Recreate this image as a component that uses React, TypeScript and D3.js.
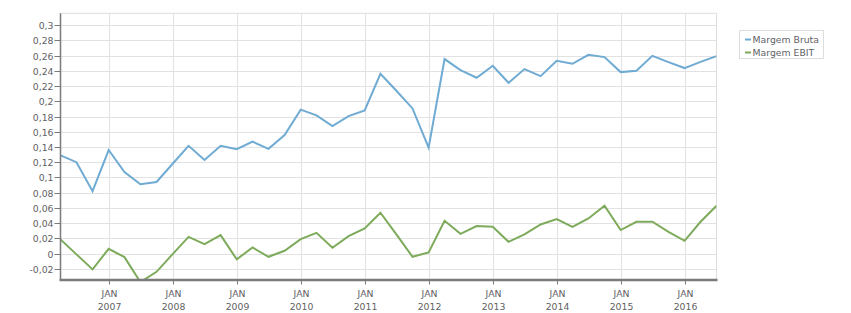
import React from "react";
import * as d3 from "d3";

const seriesNames = ["Margem Bruta", "Margem EBIT"];
const seriesColors = ["#6fabd3", "#7eab5b"];

// quarterly observations starting April 2006
const startYear = 2006;
const startMonth = 3; // April (0-based)

const margemBruta = [
  0.129, 0.12, 0.082, 0.136, 0.107, 0.091, 0.094, 0.118, 0.1415, 0.123,
  0.1415, 0.137, 0.147, 0.1376, 0.1556, 0.189, 0.1815, 0.1674, 0.1805, 0.188,
  0.236, 0.2138, 0.1906, 0.139, 0.2554, 0.241, 0.2309, 0.2466, 0.2243, 0.2423,
  0.233, 0.2532, 0.2492, 0.261, 0.258, 0.2383, 0.24, 0.2597, 0.2514, 0.2436,
  0.2518, 0.2593,
];

const margemEBIT = [
  0.0186, -0.001, -0.0207, 0.0063, -0.0046, -0.0374, -0.0239, -0.0007, 0.022, 0.0125,
  0.0243, -0.0076, 0.0081, -0.0042, 0.0037, 0.019, 0.0273, 0.0076, 0.023, 0.0331,
  0.0536, 0.0252, -0.0042, 0.0016, 0.0431, 0.026, 0.0361, 0.0352, 0.0155, 0.0252,
  0.0383, 0.0453, 0.0352, 0.0462, 0.0628, 0.0309, 0.0418, 0.0418, 0.0286, 0.0168,
  0.0418, 0.0628,
];

const yTicks = [-0.02, 0, 0.02, 0.04, 0.06, 0.08, 0.1, 0.12, 0.14, 0.16, 0.18, 0.2, 0.22, 0.24, 0.26, 0.28, 0.3];
const xTickYears = [2007, 2008, 2009, 2010, 2011, 2012, 2013, 2014, 2015, 2016];
const xTickMonthLabel = "JAN";

const W = 851;
const H = 313;
const plot = { left: 60.5, right: 716.5, top: 13.3, bottom: 279.5 };
const yDomain = [-0.034, 0.3155];
const FONT = "'DejaVu Sans', Verdana, sans-serif";
const textColor = "#5f5f66";

function fmt(v: number): string {
  if (Math.abs(v) < 1e-9) return "0";
  return String(+v.toFixed(2)).replace(".", ",");
}

export default function App() {
  const dates = margemBruta.map((_, i) => new Date(startYear, startMonth + 3 * i, 1));
  const x = d3
    .scaleTime()
    .domain([dates[0], dates[dates.length - 1]])
    .range([plot.left, plot.right]);
  const y = d3.scaleLinear().domain(yDomain).range([plot.bottom, plot.top]);

  const line = d3
    .line<number>()
    .x((_, i) => x(dates[i]))
    .y((d) => y(d));

  const series = [margemBruta, margemEBIT];

  return (
    <svg
      width={W}
      height={H}
      style={{ position: "absolute", left: 0, top: 0, background: "#fff" }}
      fontFamily={FONT}
    >
      <defs>
        <clipPath id="plotclip">
          <rect x={plot.left} y={plot.top} width={plot.right - plot.left} height={plot.bottom - plot.top} />
        </clipPath>
      </defs>
      {/* horizontal grid */}
      {yTicks.map((t) => (
        <line
          key={"hg" + t}
          x1={plot.left}
          x2={plot.right}
          y1={Math.round(y(t)) + 0.5}
          y2={Math.round(y(t)) + 0.5}
          stroke="#e2e2e2"
          strokeWidth={1}
        />
      ))}
      {/* vertical grid */}
      {xTickYears.map((yr) => {
        const px = Math.round(x(new Date(yr, 0, 1))) + 0.5;
        return (
          <line key={"vg" + yr} x1={px} x2={px} y1={plot.top} y2={plot.bottom} stroke="#e2e2e2" strokeWidth={1} />
        );
      })}
      {/* plot border top/right */}
      <line x1={plot.left} x2={plot.right} y1={plot.top} y2={plot.top} stroke="#dedede" strokeWidth={1} />
      <line x1={plot.right} x2={plot.right} y1={plot.top} y2={plot.bottom} stroke="#dedede" strokeWidth={1} />

      {/* series */}
      <g clipPath="url(#plotclip)">
        {series.map((s, si) => (
          <path
            key={seriesNames[si]}
            d={line(s) || ""}
            fill="none"
            stroke={seriesColors[si]}
            strokeWidth={2}
            strokeLinejoin="miter"
          />
        ))}
      </g>

      {/* left axis */}
      <line x1={plot.left} x2={plot.left} y1={plot.top} y2={plot.bottom} stroke="#7a7a7a" strokeWidth={1.5} />
      {yTicks.map((t) => {
        const py = Math.round(y(t)) + 0.5;
        return (
          <g key={"yt" + t}>
            <line x1={plot.left - 6} x2={plot.left} y1={py} y2={py} stroke="#7a7a7a" strokeWidth={1} />
            <text x={plot.left - 7} y={py} dy="0.35em" textAnchor="end" fontSize={9.3} fill={textColor}>
              {fmt(t)}
            </text>
          </g>
        );
      })}

      {/* bottom axis */}
      <line x1={plot.left - 1} x2={plot.right + 1} y1={plot.bottom + 0.5} y2={plot.bottom + 0.5} stroke="#7a7a7a" strokeWidth={2.5} />
      {xTickYears.map((yr) => {
        const px = Math.round(x(new Date(yr, 0, 1))) + 0.5;
        return (
          <g key={"xt" + yr}>
            <line x1={px} x2={px} y1={plot.bottom} y2={plot.bottom + 5} stroke="#7a7a7a" strokeWidth={1} />
            <text x={px} y={297} textAnchor="middle" fontSize={9.3} fill={textColor}>
              {xTickMonthLabel}
            </text>
            <text x={px} y={310} textAnchor="middle" fontSize={9.3} fill={textColor}>
              {yr}
            </text>
          </g>
        );
      })}

      {/* legend */}
      <rect x={739.5} y={30.5} width={84} height={28} fill="#fff" stroke="#dddddd" strokeWidth={1} />
      {seriesNames.map((n, i) => (
        <g key={"lg" + n}>
          <line x1={745} x2={751} y1={39.5 + i * 13} y2={39.5 + i * 13} stroke={seriesColors[i]} strokeWidth={2} />
          <text x={752.5} y={39.5 + i * 13} dy="0.35em" fontSize={9.3} fill={textColor}>
            {n}
          </text>
        </g>
      ))}
    </svg>
  );
}
